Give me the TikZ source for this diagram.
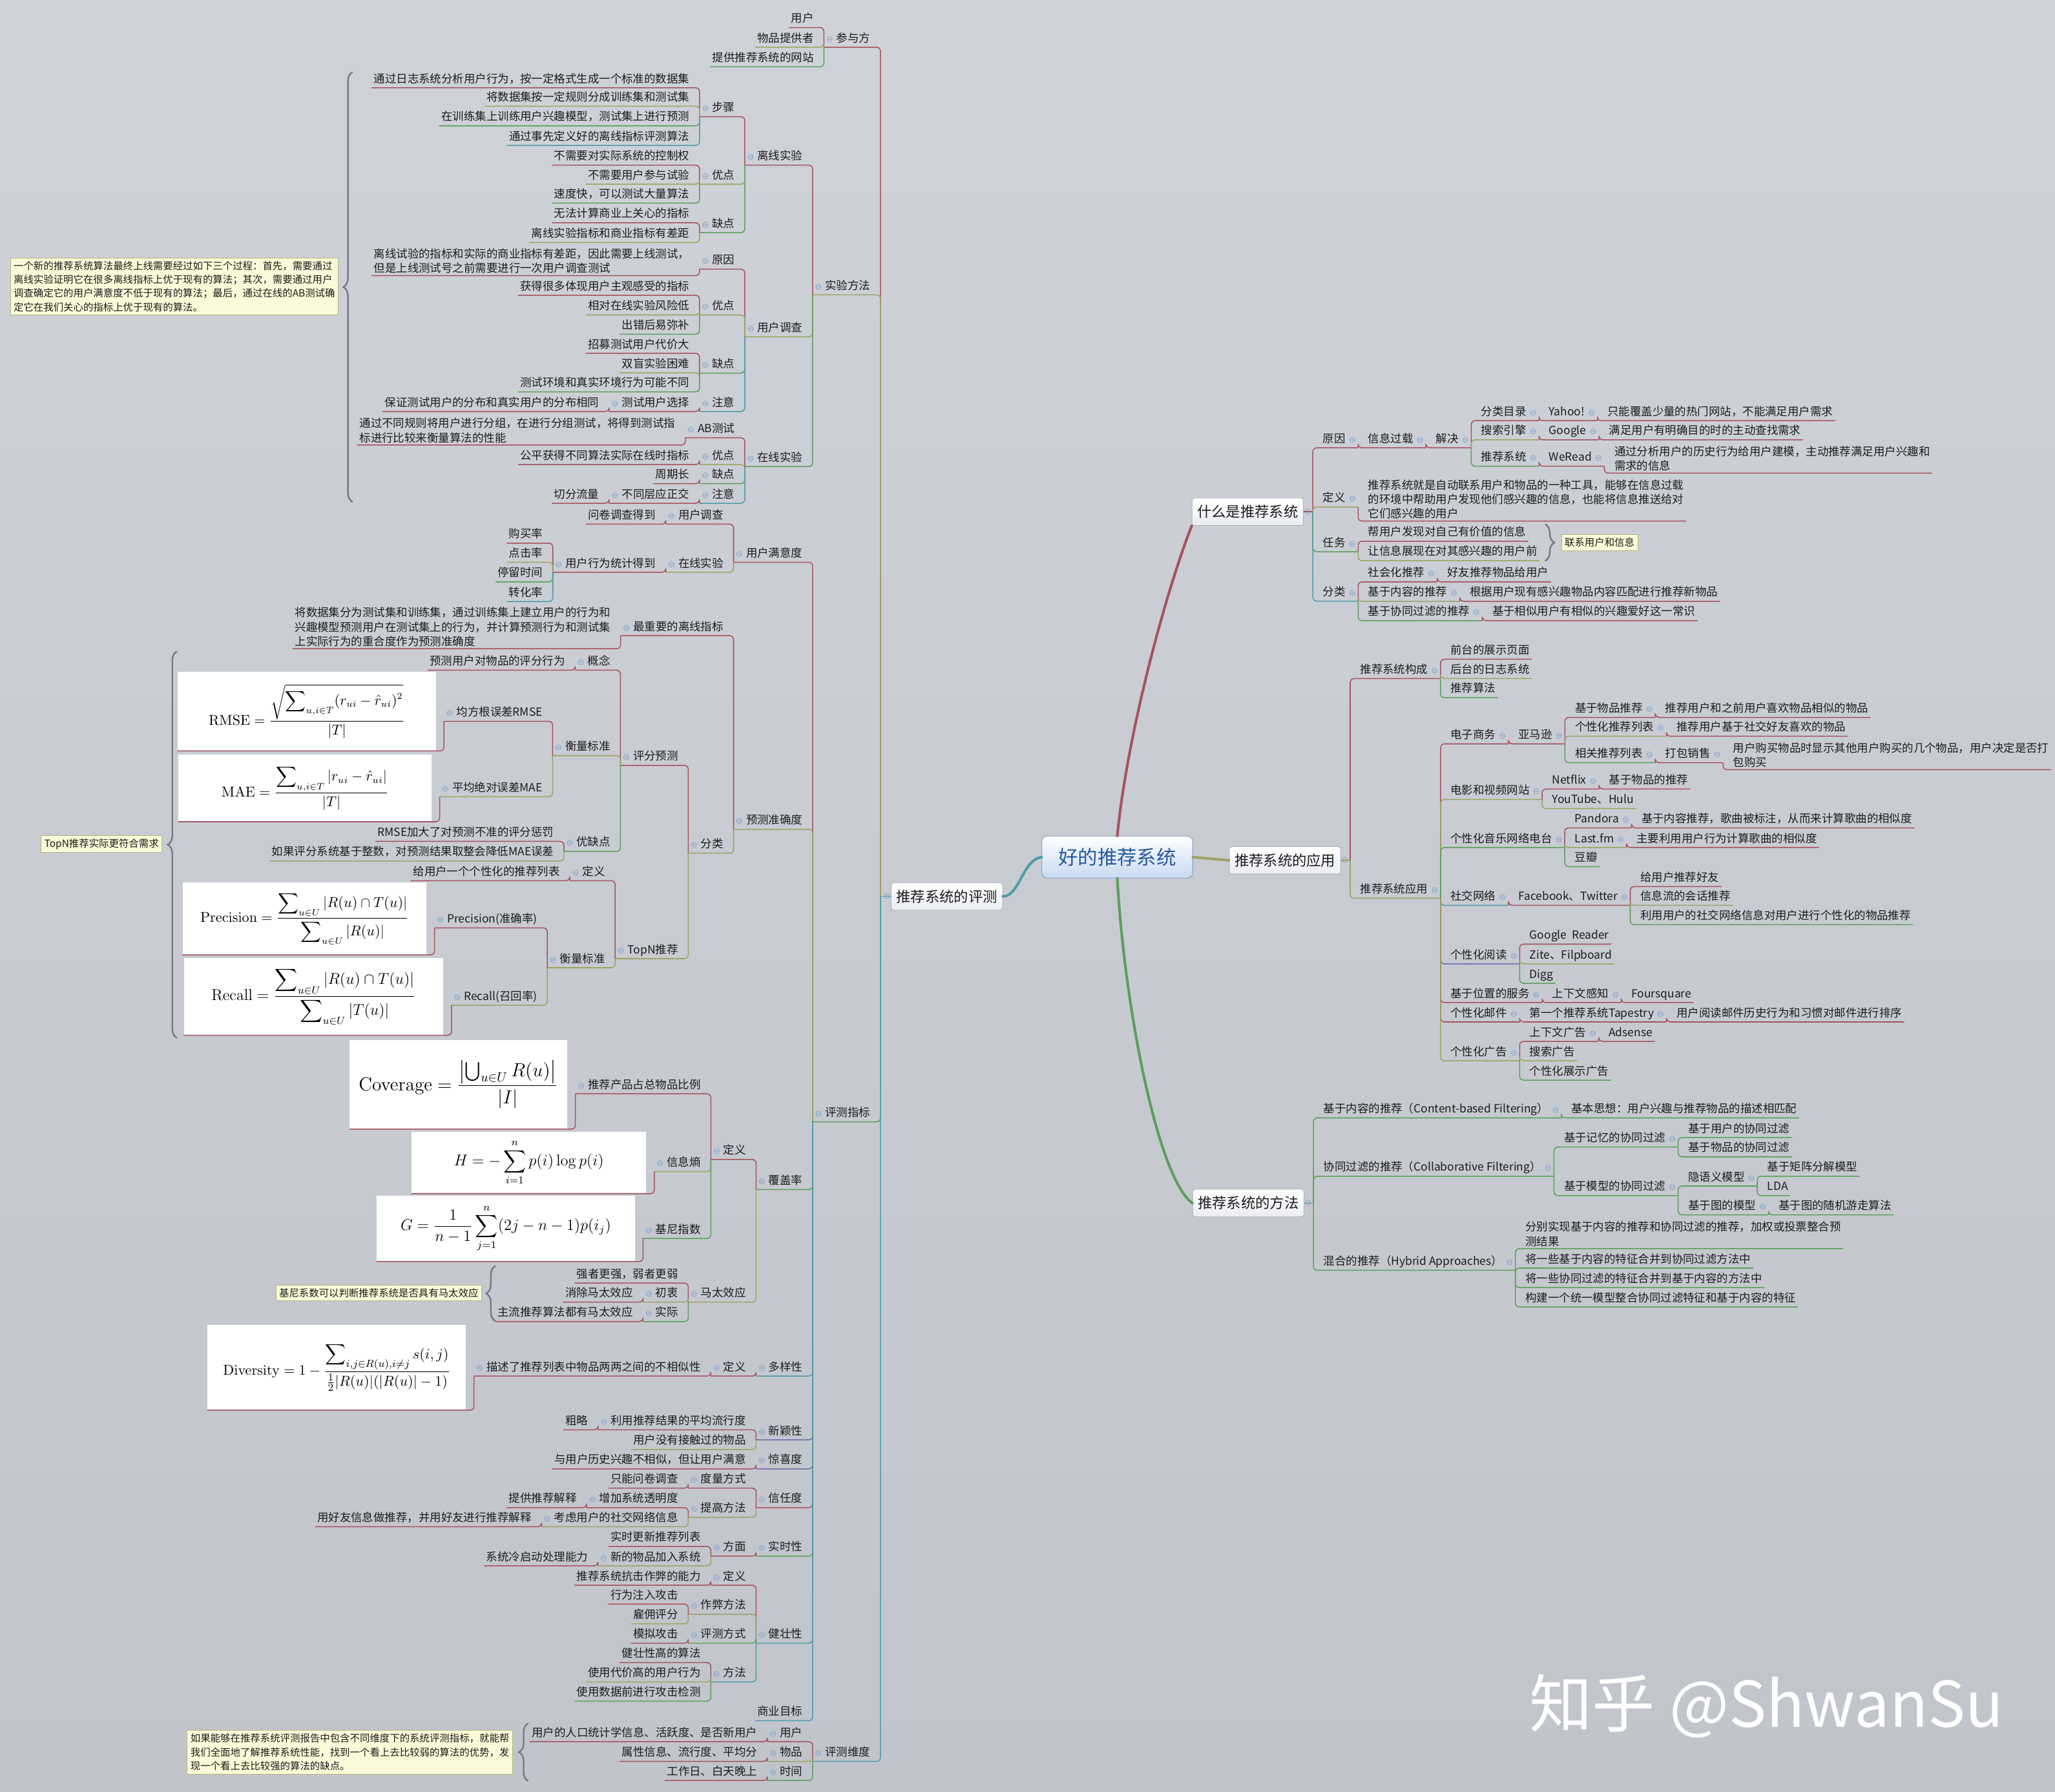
\documentclass[tikz,border=0pt]{standalone}
\usepackage{amsmath}
\usepackage[no-math]{fontspec}
\setmainfont{Noto Sans CJK SC}
\newfontfamily\mkfont{DejaVu Sans}
\usetikzlibrary{decorations.pathreplacing}
\definecolor{bgtop}{RGB}{207,210,216}
\definecolor{bgbot}{RGB}{193,196,203}
\definecolor{ink}{RGB}{28,28,30}
\definecolor{c1}{RGB}{165,82,98}
\definecolor{c2}{RGB}{158,163,98}
\definecolor{c3}{RGB}{92,158,92}
\definecolor{c4}{RGB}{78,156,168}
\definecolor{c5}{RGB}{110,106,168}
\definecolor{mkc}{RGB}{130,165,205}
\definecolor{notefill}{RGB}{250,250,216}
\definecolor{noteline}{RGB}{180,182,128}
\definecolor{bracec}{RGB}{120,122,128}
\definecolor{topicline}{RGB}{170,174,184}
\definecolor{topicbot}{RGB}{234,236,241}
\definecolor{rootline}{RGB}{120,150,192}
\definecolor{rootbot}{RGB}{200,218,240}
\definecolor{rootink}{RGB}{38,90,160}
\newcommand{\tx}{\fontsize{8.6}{11}\selectfont}
\newcommand{\mk}{{\mkfont\fontsize{6.5}{6.5}\selectfont\color{mkc}⊖}}
\newcommand{\mkl}[1]{\mk\hspace{2.5pt}#1}
\newcommand{\mkr}[1]{#1\hspace{2.5pt}\mk}
\newcommand{\lnk}[3][c1]{\draw[lk,#1] (#2) |- (#3.south east) -- (#3.south west);}
\newcommand{\rnk}[3][c1]{\draw[lk,#1] (#2) |- (#3.south west) -- (#3.south east);}
\tikzset{
  base/.style={inner sep=1.5pt, text=ink, font=\tx},
  lf/.style={base, anchor=south east, xshift=-6pt, text depth=2.2pt},
  rt/.style={base, anchor=south west, xshift=6pt, text depth=2.2pt},
  lfm/.style={base, anchor=south east, xshift=-6pt, align=left},
  rtm/.style={base, anchor=south west, xshift=6pt, align=left},
  fbox/.style={anchor=south east, xshift=-6pt, fill=white, inner sep=0pt, text=black},
  lk/.style={line width=.75pt, rounded corners=3pt},
  trunk/.style={line width=2pt, line cap=round},
  topic/.style={draw=topicline, top color=white, bottom color=topicbot, rounded corners=2pt,
    minimum width=85pt, minimum height=21pt, inner sep=1pt, text=ink, font=\fontsize{11}{13}\selectfont},
  root/.style={draw=rootline, top color=white, bottom color=rootbot, rounded corners=4pt,
    minimum width=115pt, minimum height=32pt, text=rootink, font=\fontsize{15}{17}\selectfont},
  note/.style={draw=noteline, fill=notefill, inner sep=2.5pt, text=ink, align=left,
    font=\fontsize{7.6}{10.5}\selectfont},
  brc/.style={decorate, decoration={brace, amplitude=7pt}, draw=bracec, line width=1.2pt},
}
\begin{document}
\begin{tikzpicture}[x=1pt,y=-1pt]
  \useasboundingbox (0,0) rectangle (1568,1367);
  \shade[top color=bgtop, bottom color=bgbot] (0,0) rectangle (1568,1367);
  \node[text=white, font=\fontsize{48}{50}\selectfont] (wm) at (1348,1302) {知乎 @ShwanSu};

  \node[root] (R) at (852.5,654) {好的推荐系统};
  \node[topic,label={[inner sep=0pt]east:\mk}] (W1) at (952,390.5) {什么是推荐系统};
  \node[topic,label={[inner sep=0pt]east:\mk}] (W2) at (980.5,656.5) {推荐系统的应用};
  \node[topic,label={[inner sep=0pt]east:\mk}] (W3) at (952.5,918) {推荐系统的方法};
  \node[topic,label={[inner sep=0pt]west:\mk}] (E) at (722.5,684) {推荐系统的评测};
  \draw[trunk,c1] (R.north) .. controls (860,560) and (890,450) .. (W1.south west);
  \draw[trunk,c2] (R.east) -- (W2.west);
  \draw[trunk,c3] (R.south) .. controls (858,770) and (884,900) .. (W3.west);
  \draw[trunk,c4] (R.west) .. controls (780,656) and (778,684) .. (E.east);
  \coordinate (es) at ([xshift=-8pt]E.west);
  \coordinate (w1s) at ([xshift=7pt]W1.east);
  \coordinate (w2s) at ([xshift=7pt]W2.east);
  \coordinate (w3s) at ([xshift=7pt]W3.east);
  \draw[lk,c4] (E.west) -- (es);
  \draw[lk,c1] (W1.east) -- (w1s);
  \draw[lk,c2] (W2.east) -- (w2s);
  \draw[lk,c3] (W3.east) -- (w3s);

  \node[lf] (p0) at (es |- 0,36) {\mkl{参与方}};
  \node[lf] (p01) at (p0.south west |- 0,21) {用户};
  \node[lf] (p02) at (p0.south west |- 0,36) {物品提供者};
  \node[lf] (p03) at (p0.south west |- 0,51) {提供推荐系统的网站};
  \lnk{es}{p0}
  \lnk{p0.south west}{p01}
  \lnk[c2]{p0.south west}{p02}
  \lnk[c3]{p0.south west}{p03}

  \node[lf] (s0) at (es |- 0,225) {\mkl{实验方法}};
  \node[lf] (s1) at (s0.south west |- 0,126) {\mkl{离线实验}};
  \node[lf] (s11) at (s1.south west |- 0,89) {\mkl{步骤}};
  \node[lf] (s111) at (s11.south west |- 0,67) {通过日志系统分析用户行为，按一定格式生成一个标准的数据集};
  \node[lf] (s112) at (s11.south west |- 0,81) {将数据集按一定规则分成训练集和测试集};
  \node[lf] (s113) at (s11.south west |- 0,96) {在训练集上训练用户兴趣模型，测试集上进行预测};
  \node[lf] (s114) at (s11.south west |- 0,111) {通过事先定义好的离线指标评测算法};
  \node[lf] (s12) at (s1.south west |- 0,140.5) {\mkl{优点}};
  \node[lf] (s121) at (s12.south west |- 0,126) {不需要对实际系统的控制权};
  \node[lf] (s122) at (s12.south west |- 0,140.5) {不需要用户参与试验};
  \node[lf] (s123) at (s12.south west |- 0,155) {速度快，可以测试大量算法};
  \node[lf] (s13) at (s1.south west |- 0,177.5) {\mkl{缺点}};
  \node[lf] (s131) at (s13.south west |- 0,170) {无法计算商业上关心的指标};
  \node[lf] (s132) at (s13.south west |- 0,185) {离线实验指标和商业指标有差距};
  \lnk[c2]{es}{s0}
  \lnk{s0.south west}{s1}
  \lnk{s1.south west}{s11}
  \lnk{s11.south west}{s111}
  \lnk[c2]{s11.south west}{s112}
  \lnk[c3]{s11.south west}{s113}
  \lnk[c4]{s11.south west}{s114}
  \lnk[c2]{s1.south west}{s12}
  \lnk{s12.south west}{s121}
  \lnk[c2]{s12.south west}{s122}
  \lnk[c3]{s12.south west}{s123}
  \lnk[c3]{s1.south west}{s13}
  \lnk{s13.south west}{s131}
  \lnk[c2]{s13.south west}{s132}

  \node[lf] (s2) at (s0.south west |- 0,257) {\mkl{用户调查}};
  \node[lf] (s21) at (s2.south west |- 0,205.4) {\mkl{原因}};
  \node[lfm] (s211) at (s21.south west |- 0,210.3) {离线试验的指标和实际的商业指标有差距，因此需要上线测试，\\但是上线测试号之前需要进行一次用户调查测试};
  \node[lf] (s22) at (s2.south west |- 0,240.3) {\mkl{优点}};
  \node[lf] (s221) at (s22.south west |- 0,225.3) {获得很多体现用户主观感受的指标};
  \node[lf] (s222) at (s22.south west |- 0,240.3) {相对在线实验风险低};
  \node[lf] (s223) at (s22.south west |- 0,255) {出错后易弥补};
  \node[lf] (s23) at (s2.south west |- 0,284.7) {\mkl{缺点}};
  \node[lf] (s231) at (s23.south west |- 0,269.6) {招募测试用户代价大};
  \node[lf] (s232) at (s23.south west |- 0,284.5) {双盲实验困难};
  \node[lf] (s233) at (s23.south west |- 0,299) {测试环境和真实环境行为可能不同};
  \node[lf] (s24) at (s2.south west |- 0,314) {\mkl{注意}};
  \node[lf] (s241) at (s24.south west |- 0,314) {\mkl{测试用户选择}};
  \node[lf] (s2411) at (s241.south west |- 0,314) {保证测试用户的分布和真实用户的分布相同};
  \lnk[c2]{s0.south west}{s2}
  \lnk{s2.south west}{s21}
  \lnk{s21.south west}{s211}
  \lnk[c2]{s2.south west}{s22}
  \lnk{s22.south west}{s221}
  \lnk[c2]{s22.south west}{s222}
  \lnk[c3]{s22.south west}{s223}
  \lnk[c3]{s2.south west}{s23}
  \lnk{s23.south west}{s231}
  \lnk[c2]{s23.south west}{s232}
  \lnk[c3]{s23.south west}{s233}
  \lnk[c4]{s2.south west}{s24}
  \lnk{s24.south west}{s241}
  \lnk{s241.south west}{s2411}

  \node[lf] (s3) at (s0.south west |- 0,356) {\mkl{在线实验}};
  \node[lf] (s31) at (s3.south west |- 0,334) {\mkl{AB测试}};
  \node[lfm] (s311) at (s31.south west |- 0,339.6) {通过不同规则将用户进行分组，在进行分组测试，将得到测试指\\标进行比较来衡量算法的性能};
  \node[lf] (s32) at (s3.south west |- 0,354.5) {\mkl{优点}};
  \node[lf] (s321) at (s32.south west |- 0,354.5) {公平获得不同算法实际在线时指标};
  \node[lf] (s33) at (s3.south west |- 0,369) {\mkl{缺点}};
  \node[lf] (s331) at (s33.south west |- 0,369) {周期长};
  \node[lf] (s34) at (s3.south west |- 0,384) {\mkl{注意}};
  \node[lf] (s341) at (s34.south west |- 0,384) {\mkl{不同层应正交}};
  \node[lf] (s3411) at (s341.south west |- 0,384) {切分流量};
  \lnk[c3]{s0.south west}{s3}
  \lnk{s3.south west}{s31}
  \lnk{s31.south west}{s311}
  \lnk[c2]{s3.south west}{s32}
  \lnk{s32.south west}{s321}
  \lnk[c3]{s3.south west}{s33}
  \lnk{s33.south west}{s331}
  \lnk[c4]{s3.south west}{s34}
  \lnk{s34.south west}{s341}
  \lnk{s341.south west}{s3411}

  \node[lf] (m0) at (es |- 0,856) {\mkl{评测指标}};
  \node[lf] (m1) at (m0.south west |- 0,429) {\mkl{用户满意度}};
  \node[lf] (m11) at (m1.south west |- 0,400) {\mkl{用户调查}};
  \node[lf] (m111) at (m11.south west |- 0,400) {问卷调查得到};
  \node[lf] (m12) at (m1.south west |- 0,436.7) {\mkl{在线实验}};
  \node[lf] (m121) at (m12.south west |- 0,436.7) {\mkl{用户行为统计得到}};
  \node[lf] (m1211) at (m121.south west |- 0,414.5) {购买率};
  \node[lf] (m1212) at (m121.south west |- 0,429) {点击率};
  \node[lf] (m1213) at (m121.south west |- 0,444) {停留时间};
  \node[lf] (m1214) at (m121.south west |- 0,459) {转化率};
  \lnk[c3]{es}{m0}
  \lnk{m0.south west}{m1}
  \lnk{m1.south west}{m11}
  \lnk{m11.south west}{m111}
  \lnk[c2]{m1.south west}{m12}
  \lnk{m12.south west}{m121}
  \lnk{m121.south west}{m1211}
  \lnk[c2]{m121.south west}{m1212}
  \lnk[c3]{m121.south west}{m1213}
  \lnk[c4]{m121.south west}{m1214}

  \node[lf] (m2) at (m0.south west |- 0,632.8) {\mkl{预测准确度}};
  \node[lf] (m21) at (m2.south west |- 0,485) {\mkl{最重要的离线指标}};
  \node[lfm] (m211) at (m21.south west |- 0,495) {将数据集分为测试集和训练集，通过训练集上建立用户的行为和\\兴趣模型预测用户在测试集上的行为，并计算预测行为和测试集\\上实际行为的重合度作为预测准确度};
  \node[lf] (m22) at (m2.south west |- 0,651) {\mkl{分类}};
  \node[lf] (m221) at (m22.south west |- 0,584) {\mkl{评分预测}};
  \node[lf] (m2211) at (m221.south west |- 0,511.4) {\mkl{概念}};
  \node[lf] (m22111) at (m2211.south west |- 0,511.4) {预测用户对物品的评分行为};
  \node[lf] (m2212) at (m221.south west |- 0,576.6) {\mkl{衡量标准}};
  \node[lf] (m22121) at (m2212.south west |- 0,550.4) {\mkl{均方根误差RMSE}};
  \node[fbox,minimum width=197pt,minimum height=60pt,font=\fontsize{10.5}{12}\selectfont] (frmse) at (m22121.south west |- 0,573)
    {$\mathrm{RMSE}=\dfrac{\sqrt{\displaystyle\sum\nolimits_{u,i\in T}(r_{ui}-\hat{r}_{ui})^2}}{|T|}$};
  \node[lf] (m22122) at (m2212.south west |- 0,608) {\mkl{平均绝对误差MAE}};
  \node[fbox,minimum width=193pt,minimum height=51pt,font=\fontsize{10.5}{12}\selectfont] (fmae) at (m22122.south west |- 0,627)
    {$\mathrm{MAE}=\dfrac{\displaystyle\sum\nolimits_{u,i\in T}|r_{ui}-\hat{r}_{ui}|}{|T|}$};
  \node[lf] (m2213) at (m221.south west |- 0,649.6) {\mkl{优缺点}};
  \node[lf] (m22131) at (m2213.south west |- 0,642) {RMSE加大了对预测不准的评分惩罚};
  \node[lf] (m22132) at (m2213.south west |- 0,657) {如果评分系统基于整数，对预测结果取整会降低MAE误差};
  \node[lf] (m222) at (m22.south west |- 0,731.5) {\mkl{TopN推荐}};
  \node[lf] (m2221) at (m222.south west |- 0,672) {\mkl{定义}};
  \node[lf] (m22211) at (m2221.south west |- 0,672) {给用户一个个性化的推荐列表};
  \node[lf] (m2222) at (m222.south west |- 0,738.4) {\mkl{衡量标准}};
  \node[lf] (m22221) at (m2222.south west |- 0,708) {\mkl{Precision(准确率)}};
  \node[fbox,minimum width=186pt,minimum height=55pt,font=\fontsize{10.5}{12}\selectfont] (fpre) at (m22221.south west |- 0,728.6)
    {$\mathrm{Precision}=\dfrac{\displaystyle\sum\nolimits_{u\in U}|R(u)\cap T(u)|}{\displaystyle\sum\nolimits_{u\in U}|R(u)|}$};
  \node[lf] (m22222) at (m2222.south west |- 0,767) {\mkl{Recall(召回率)}};
  \node[fbox,minimum width=198pt,minimum height=59pt,font=\fontsize{11.5}{13}\selectfont] (frec) at (m22222.south west |- 0,790)
    {$\mathrm{Recall}=\dfrac{\displaystyle\sum\nolimits_{u\in U}|R(u)\cap T(u)|}{\displaystyle\sum\nolimits_{u\in U}|T(u)|}$};
  \lnk[c2]{m0.south west}{m2}
  \lnk{m2.south west}{m21}
  \lnk{m21.south west}{m211}
  \lnk[c2]{m2.south west}{m22}
  \lnk{m22.south west}{m221}
  \lnk{m221.south west}{m2211}
  \lnk{m2211.south west}{m22111}
  \lnk[c2]{m221.south west}{m2212}
  \lnk{m2212.south west}{m22121}
  \lnk{m22121.south west}{frmse}
  \lnk[c2]{m2212.south west}{m22122}
  \lnk{m22122.south west}{fmae}
  \lnk[c3]{m221.south west}{m2213}
  \lnk{m2213.south west}{m22131}
  \lnk[c2]{m2213.south west}{m22132}
  \lnk[c2]{m22.south west}{m222}
  \lnk{m222.south west}{m2221}
  \lnk{m2221.south west}{m22211}
  \lnk[c2]{m222.south west}{m2222}
  \lnk{m2222.south west}{m22221}
  \lnk{m22221.south west}{fpre}
  \lnk[c2]{m2222.south west}{m22222}
  \lnk{m22222.south west}{frec}

  \node[lf] (m3) at (m0.south west |- 0,907.7) {\mkl{覆盖率}};
  \node[lf] (m31) at (m3.south west |- 0,884.7) {\mkl{定义}};
  \node[lf] (m311) at (m31.south west |- 0,834.6) {\mkl{推荐产品占总物品比例}};
  \node[fbox,minimum width=166pt,minimum height=68pt,font=\fontsize{14}{16}\selectfont] (fcov) at (m311.south west |- 0,861.6)
    {$\mathrm{Coverage}=\dfrac{\left|\bigcup\nolimits_{u\in U}R(u)\right|}{|I|}$};
  \node[lf] (m312) at (m31.south west |- 0,894) {\mkl{信息熵}};
  \node[fbox,minimum width=179pt,minimum height=47pt,font=\fontsize{12}{14}\selectfont] (fh) at (m312.south west |- 0,910.8)
    {$H=-\displaystyle\sum_{i=1}^{n}p(i)\log p(i)$};
  \node[lf] (m313) at (m31.south west |- 0,945) {\mkl{基尼指数}};
  \node[fbox,minimum width=197pt,minimum height=50pt,font=\fontsize{11.5}{13}\selectfont] (fg) at (m313.south west |- 0,962.6)
    {$G=\dfrac{1}{n-1}\displaystyle\sum_{j=1}^{n}(2j-n-1)p(i_j)$};
  \node[lf] (m32) at (m3.south west |- 0,993.6) {\mkl{马太效应}};
  \node[lf] (m321) at (m32.south west |- 0,979) {强者更强，弱者更弱};
  \node[lf] (m322) at (m32.south west |- 0,993.6) {\mkl{初衷}};
  \node[lf] (m3221) at (m322.south west |- 0,993.6) {消除马太效应};
  \node[lf] (m323) at (m32.south west |- 0,1008.4) {\mkl{实际}};
  \node[lf] (m3231) at (m323.south west |- 0,1008.4) {主流推荐算法都有马太效应};
  \lnk[c3]{m0.south west}{m3}
  \lnk{m3.south west}{m31}
  \lnk{m31.south west}{m311}
  \lnk{m311.south west}{fcov}
  \lnk[c2]{m31.south west}{m312}
  \lnk{m312.south west}{fh}
  \lnk[c3]{m31.south west}{m313}
  \lnk{m313.south west}{fg}
  \lnk[c2]{m3.south west}{m32}
  \lnk{m32.south west}{m321}
  \lnk[c2]{m32.south west}{m322}
  \lnk{m322.south west}{m3221}
  \lnk[c3]{m32.south west}{m323}
  \lnk{m323.south west}{m3231}

  \node[lf] (m4) at (m0.south west |- 0,1050) {\mkl{多样性}};
  \node[lf] (m41) at (m4.south west |- 0,1050) {\mkl{定义}};
  \node[lf] (m411) at (m41.south west |- 0,1050) {\mkl{描述了推荐列表中物品两两之间的不相似性}};
  \node[fbox,minimum width=197pt,minimum height=65pt,font=\fontsize{11}{13}\selectfont] (fdiv) at (m411.south west |- 0,1076)
    {$\mathrm{Diversity}=1-\dfrac{\displaystyle\sum\nolimits_{i,j\in R(u),i\neq j}s(i,j)}{\frac{1}{2}|R(u)|(|R(u)|-1)}$};
  \node[lf] (m5) at (m0.south west |- 0,1098.7) {\mkl{新颖性}};
  \node[lf] (m51) at (m5.south west |- 0,1091) {\mkl{利用推荐结果的平均流行度}};
  \node[lf] (m511) at (m51.south west |- 0,1091) {粗略};
  \node[lf] (m52) at (m5.south west |- 0,1106) {用户没有接触过的物品};
  \node[lf] (m6) at (m0.south west |- 0,1120.8) {\mkl{惊喜度}};
  \node[lf] (m61) at (m6.south west |- 0,1120.8) {与用户历史兴趣不相似，但让用户满意};
  \node[lf] (m7) at (m0.south west |- 0,1150.4) {\mkl{信任度}};
  \node[lf] (m71) at (m7.south west |- 0,1135.5) {\mkl{度量方式}};
  \node[lf] (m711) at (m71.south west |- 0,1135.5) {只能问卷调查};
  \node[lf] (m72) at (m7.south west |- 0,1157.8) {\mkl{提高方法}};
  \node[lf] (m721) at (m72.south west |- 0,1150.4) {\mkl{增加系统透明度}};
  \node[lf] (m7211) at (m721.south west |- 0,1150.4) {提供推荐解释};
  \node[lf] (m722) at (m72.south west |- 0,1165) {\mkl{考虑用户的社交网络信息}};
  \node[lf] (m7221) at (m722.south west |- 0,1165) {用好友信息做推荐，并用好友进行推荐解释};
  \lnk[c4]{m0.south west}{m4}
  \lnk{m4.south west}{m41}
  \lnk{m41.south west}{m411}
  \lnk{m411.south west}{fdiv}
  \lnk[c5]{m0.south west}{m5}
  \lnk{m5.south west}{m51}
  \lnk{m51.south west}{m511}
  \lnk[c2]{m5.south west}{m52}
  \lnk[c5]{m0.south west}{m6}
  \lnk{m6.south west}{m61}
  \lnk[c1]{m0.south west}{m7}
  \lnk{m7.south west}{m71}
  \lnk{m71.south west}{m711}
  \lnk[c2]{m7.south west}{m72}
  \lnk{m72.south west}{m721}
  \lnk{m721.south west}{m7211}
  \lnk[c2]{m72.south west}{m722}
  \lnk{m722.south west}{m7221}

  \node[lf] (m8) at (m0.south west |- 0,1187.4) {\mkl{实时性}};
  \node[lf] (m81) at (m8.south west |- 0,1187.4) {\mkl{方面}};
  \node[lf] (m811) at (m81.south west |- 0,1180) {实时更新推荐列表};
  \node[lf] (m812) at (m81.south west |- 0,1194.8) {\mkl{新的物品加入系统}};
  \node[lf] (m8121) at (m812.south west |- 0,1194.8) {系统冷启动处理能力};
  \node[lf] (m9) at (m0.south west |- 0,1253.8) {\mkl{健壮性}};
  \node[lf] (m91) at (m9.south west |- 0,1209.6) {\mkl{定义}};
  \node[lf] (m911) at (m91.south west |- 0,1209.6) {推荐系统抗击作弊的能力};
  \node[lf] (m92) at (m9.south west |- 0,1231.7) {\mkl{作弊方法}};
  \node[lf] (m921) at (m92.south west |- 0,1224) {行为注入攻击};
  \node[lf] (m922) at (m92.south west |- 0,1239) {雇佣评分};
  \node[lf] (m93) at (m9.south west |- 0,1253.8) {\mkl{评测方式}};
  \node[lf] (m931) at (m93.south west |- 0,1253.8) {模拟攻击};
  \node[lf] (m94) at (m9.south west |- 0,1283.4) {\mkl{方法}};
  \node[lf] (m941) at (m94.south west |- 0,1268.6) {健壮性高的算法};
  \node[lf] (m942) at (m94.south west |- 0,1283.4) {使用代价高的用户行为};
  \node[lf] (m943) at (m94.south west |- 0,1298) {使用数据前进行攻击检测};
  \node[lf] (ma) at (m0.south west |- 0,1313) {商业目标};
  \lnk[c3]{m0.south west}{m8}
  \lnk{m8.south west}{m81}
  \lnk{m81.south west}{m811}
  \lnk[c2]{m81.south west}{m812}
  \lnk{m812.south west}{m8121}
  \lnk[c4]{m0.south west}{m9}
  \lnk{m9.south west}{m91}
  \lnk{m91.south west}{m911}
  \lnk[c2]{m9.south west}{m92}
  \lnk{m92.south west}{m921}
  \lnk[c2]{m92.south west}{m922}
  \lnk[c3]{m9.south west}{m93}
  \lnk{m93.south west}{m931}
  \lnk[c4]{m9.south west}{m94}
  \lnk{m94.south west}{m941}
  \lnk[c2]{m94.south west}{m942}
  \lnk[c3]{m94.south west}{m943}
  \lnk[c4]{m0.south west}{ma}

  \node[lf] (d0) at (es |- 0,1344) {\mkl{评测维度}};
  \node[lf] (d1) at (d0.south west |- 0,1329) {\mkl{用户}};
  \node[lf] (d11) at (d1.south west |- 0,1329) {用户的人口统计学信息、活跃度、是否新用户};
  \node[lf] (d2) at (d0.south west |- 0,1344) {\mkl{物品}};
  \node[lf] (d21) at (d2.south west |- 0,1344) {属性信息、流行度、平均分};
  \node[lf] (d3) at (d0.south west |- 0,1358.6) {\mkl{时间}};
  \node[lf] (d31) at (d3.south west |- 0,1358.6) {工作日、白天晚上};
  \lnk[c4]{es}{d0}
  \lnk{d0.south west}{d1}
  \lnk{d1.south west}{d11}
  \lnk[c2]{d0.south west}{d2}
  \lnk{d2.south west}{d21}
  \lnk[c3]{d0.south west}{d3}
  \lnk{d3.south west}{d31}

  \node[note] (n1) at (133,218.5) {一个新的推荐系统算法最终上线需要经过如下三个过程：首先，需要通过\\离线实验证明它在很多离线指标上优于现有的算法；其次，需要通过用户\\调查确定它的用户满意度不低于现有的算法；最后，通过在线的AB测试确\\定它在我们关心的指标上优于现有的算法。};
  \node[note] (n2) at (77.5,644) {TopN推荐实际更符合需求};
  \node[note] (n3) at (289,986.5) {基尼系数可以判断推荐系统是否具有马太效应};
  \node[note] (n4) at (267,1337) {如果能够在推荐系统评测报告中包含不同维度下的系统评测指标，就能帮\\我们全面地了解推荐系统性能，找到一个看上去比较弱的算法的优势，发\\现一个看上去比较强的算法的缺点。};
  \node[note] (n5) at (1220.5,414) {联系用户和信息};
  \draw[brc] (269,383) -- (269,55);
  \draw[brc] (135,792) -- (135,497);
  \draw[brc] (378,1008) -- (378,966);
  \draw[brc] (403,1359) -- (403,1315);
  \draw[brc] (1179,400) -- (1179,428);

  \node[rt] (a1) at (w1s |- 0,341.7) {\mkr{原因}};
  \node[rt] (a11) at (a1.south east |- 0,341.7) {\mkr{信息过载}};
  \node[rt] (a111) at (a11.south east |- 0,341.7) {\mkr{解决}};
  \node[rt] (a1111) at (a111.south east |- 0,321) {\mkr{分类目录}};
  \node[rt] (a1111a) at (a1111.south east |- 0,321) {\mkr{Yahoo!}};
  \node[rt] (a1111b) at (a1111a.south east |- 0,321) {只能覆盖少量的热门网站，不能满足用户需求};
  \node[rt] (a1112) at (a111.south east |- 0,335.6) {\mkr{搜索引擎}};
  \node[rt] (a1112a) at (a1112.south east |- 0,335.6) {\mkr{Google}};
  \node[rt] (a1112b) at (a1112a.south east |- 0,335.6) {满足用户有明确目的时的主动查找需求};
  \node[rt] (a1113) at (a111.south east |- 0,355.7) {\mkr{推荐系统}};
  \node[rt] (a1113a) at (a1113.south east |- 0,355.7) {\mkr{WeRead}};
  \node[rtm] (a1113b) at (a1113a.south east |- 0,361) {通过分析用户的历史行为给用户建模，主动推荐满足用户兴趣和\\需求的信息};
  \node[rt] (a2) at (w1s |- 0,386.9) {\mkr{定义}};
  \node[rtm] (a21) at (a2.south east |- 0,397.6) {推荐系统就是自动联系用户和物品的一种工具，能够在信息过载\\的环境中帮助用户发现他们感兴趣的信息，也能将信息推送给对\\它们感兴趣的用户};
  \node[rt] (a3) at (w1s |- 0,421) {\mkr{任务}};
  \node[rt] (a31) at (a3.south east |- 0,413) {帮用户发现对自己有价值的信息};
  \node[rt] (a32) at (a3.south east |- 0,427.8) {让信息展现在对其感兴趣的用户前};
  \node[rt] (a4) at (w1s |- 0,458.7) {\mkr{分类}};
  \node[rt] (a41) at (a4.south east |- 0,444) {\mkr{社会化推荐}};
  \node[rt] (a411) at (a41.south east |- 0,444) {好友推荐物品给用户};
  \node[rt] (a42) at (a4.south east |- 0,458.8) {\mkr{基于内容的推荐}};
  \node[rt] (a421) at (a42.south east |- 0,458.8) {根据用户现有感兴趣物品内容匹配进行推荐新物品};
  \node[rt] (a43) at (a4.south east |- 0,473.6) {\mkr{基于协同过滤的推荐}};
  \node[rt] (a431) at (a43.south east |- 0,473.6) {基于相似用户有相似的兴趣爱好这一常识};
  \rnk{w1s}{a1}
  \rnk{a1.south east}{a11}
  \rnk{a11.south east}{a111}
  \rnk{a111.south east}{a1111}
  \rnk{a1111.south east}{a1111a}
  \rnk{a1111a.south east}{a1111b}
  \rnk[c2]{a111.south east}{a1112}
  \rnk{a1112.south east}{a1112a}
  \rnk{a1112a.south east}{a1112b}
  \rnk[c3]{a111.south east}{a1113}
  \rnk{a1113.south east}{a1113a}
  \rnk{a1113a.south east}{a1113b}
  \rnk[c2]{w1s}{a2}
  \rnk{a2.south east}{a21}
  \rnk[c3]{w1s}{a3}
  \rnk{a3.south east}{a31}
  \rnk[c2]{a3.south east}{a32}
  \rnk[c4]{w1s}{a4}
  \rnk{a4.south east}{a41}
  \rnk{a41.south east}{a411}
  \rnk[c2]{a4.south east}{a42}
  \rnk{a42.south east}{a421}
  \rnk[c3]{a4.south east}{a43}
  \rnk{a43.south east}{a431}

  \node[rt] (b1) at (w2s |- 0,517.8) {\mkr{推荐系统构成}};
  \node[rt] (b11) at (b1.south east |- 0,503) {前台的展示页面};
  \node[rt] (b12) at (b1.south east |- 0,517.8) {后台的日志系统};
  \node[rt] (b13) at (b1.south east |- 0,532.3) {推荐算法};
  \node[rt] (b2) at (w2s |- 0,685.4) {\mkr{推荐系统应用}};
  \node[rt] (b21) at (b2.south east |- 0,567.6) {\mkr{电子商务}};
  \node[rt] (b211) at (b21.south east |- 0,567.6) {\mkr{亚马逊}};
  \node[rt] (b2111) at (b211.south east |- 0,547.4) {\mkr{基于物品推荐}};
  \node[rt] (b21111) at (b2111.south east |- 0,547.4) {推荐用户和之前用户喜欢物品相似的物品};
  \node[rt] (b2112) at (b211.south east |- 0,561.8) {\mkr{个性化推荐列表}};
  \node[rt] (b21121) at (b2112.south east |- 0,561.8) {推荐用户基于社交好友喜欢的物品};
  \node[rt] (b2113) at (b211.south east |- 0,582) {\mkr{相关推荐列表}};
  \node[rt] (b21131) at (b2113.south east |- 0,582) {\mkr{打包销售}};
  \node[rtm] (b211311) at (b21131.south east |- 0,587.3) {用户购买物品时显示其他用户购买的几个物品，用户决定是否打\\包购买};
  \node[rt] (b22) at (b2.south east |- 0,610) {\mkr{电影和视频网站}};
  \node[rt] (b221) at (b22.south east |- 0,602) {\mkr{Netflix}};
  \node[rt] (b2211) at (b221.south east |- 0,602) {基于物品的推荐};
  \node[rt] (b222) at (b22.south east |- 0,617) {YouTube、Hulu};
  \node[rt] (b23) at (b2.south east |- 0,646.7) {\mkr{个性化音乐网络电台}};
  \node[rt] (b231) at (b23.south east |- 0,631.7) {\mkr{Pandora}};
  \node[rt] (b2311) at (b231.south east |- 0,631.7) {基于内容推荐，歌曲被标注，从而来计算歌曲的相似度};
  \node[rt] (b232) at (b23.south east |- 0,646.7) {\mkr{Last.fm}};
  \node[rt] (b2321) at (b232.south east |- 0,646.7) {主要利用用户行为计算歌曲的相似度};
  \node[rt] (b233) at (b23.south east |- 0,661.3) {豆瓣};
  \node[rt] (b24) at (b2.south east |- 0,690.8) {\mkr{社交网络}};
  \node[rt] (b241) at (b24.south east |- 0,690.8) {\mkr{Facebook、Twitter}};
  \node[rt] (b2411) at (b241.south east |- 0,676.5) {给用户推荐好友};
  \node[rt] (b2412) at (b241.south east |- 0,690.8) {信息流的会话推荐};
  \node[rt] (b2413) at (b241.south east |- 0,705.6) {利用用户的社交网络信息对用户进行个性化的物品推荐};
  \node[rt] (b25) at (b2.south east |- 0,735.5) {\mkr{个性化阅读}};
  \node[rt] (b251) at (b25.south east |- 0,720.4) {Google\ \ Reader};
  \node[rt] (b252) at (b25.south east |- 0,735.5) {Zite、Filpboard};
  \node[rt] (b253) at (b25.south east |- 0,750.3) {Digg};
  \node[rt] (b26) at (b2.south east |- 0,765) {\mkr{基于位置的服务}};
  \node[rt] (b261) at (b26.south east |- 0,765) {\mkr{上下文感知}};
  \node[rt] (b2611) at (b261.south east |- 0,765) {Foursquare};
  \node[rt] (b27) at (b2.south east |- 0,779.8) {\mkr{个性化邮件}};
  \node[rt] (b271) at (b27.south east |- 0,779.8) {\mkr{第一个推荐系统Tapestry}};
  \node[rt] (b2711) at (b271.south east |- 0,779.8) {用户阅读邮件历史行为和习惯对邮件进行排序};
  \node[rt] (b28) at (b2.south east |- 0,809.4) {\mkr{个性化广告}};
  \node[rt] (b281) at (b28.south east |- 0,794.6) {\mkr{上下文广告}};
  \node[rt] (b2811) at (b281.south east |- 0,794.6) {Adsense};
  \node[rt] (b282) at (b28.south east |- 0,809.4) {搜索广告};
  \node[rt] (b283) at (b28.south east |- 0,824.2) {个性化展示广告};
  \rnk{w2s}{b1}
  \rnk{b1.south east}{b11}
  \rnk[c2]{b1.south east}{b12}
  \rnk[c3]{b1.south east}{b13}
  \rnk[c2]{w2s}{b2}
  \rnk{b2.south east}{b21}
  \rnk{b21.south east}{b211}
  \rnk{b211.south east}{b2111}
  \rnk{b2111.south east}{b21111}
  \rnk[c2]{b211.south east}{b2112}
  \rnk{b2112.south east}{b21121}
  \rnk[c3]{b211.south east}{b2113}
  \rnk{b2113.south east}{b21131}
  \rnk{b21131.south east}{b211311}
  \rnk[c2]{b2.south east}{b22}
  \rnk{b22.south east}{b221}
  \rnk{b221.south east}{b2211}
  \rnk[c2]{b22.south east}{b222}
  \rnk[c3]{b2.south east}{b23}
  \rnk{b23.south east}{b231}
  \rnk{b231.south east}{b2311}
  \rnk[c2]{b23.south east}{b232}
  \rnk{b232.south east}{b2321}
  \rnk[c3]{b23.south east}{b233}
  \rnk[c4]{b2.south east}{b24}
  \rnk{b24.south east}{b241}
  \rnk{b241.south east}{b2411}
  \rnk[c2]{b241.south east}{b2412}
  \rnk[c3]{b241.south east}{b2413}
  \rnk[c5]{b2.south east}{b25}
  \rnk{b25.south east}{b251}
  \rnk[c2]{b25.south east}{b252}
  \rnk[c3]{b25.south east}{b253}
  \rnk{b2.south east}{b26}
  \rnk{b26.south east}{b261}
  \rnk{b261.south east}{b2611}
  \rnk{b2.south east}{b27}
  \rnk{b27.south east}{b271}
  \rnk{b271.south east}{b2711}
  \rnk[c2]{b2.south east}{b28}
  \rnk{b28.south east}{b281}
  \rnk{b281.south east}{b2811}
  \rnk[c2]{b28.south east}{b282}
  \rnk[c3]{b28.south east}{b283}

  \node[rt] (k1) at (w3s |- 0,853) {\mkr{基于内容的推荐（Content-based Filtering）}};
  \node[rt] (k11) at (k1.south east |- 0,853) {基本思想：用户兴趣与推荐物品的描述相匹配};
  \node[rt] (k2) at (w3s |- 0,897.5) {\mkr{协同过滤的推荐（Collaborative Filtering）}};
  \node[rt] (k21) at (k2.south east |- 0,875.3) {\mkr{基于记忆的协同过滤}};
  \node[rt] (k211) at (k21.south east |- 0,868) {基于用户的协同过滤};
  \node[rt] (k212) at (k21.south east |- 0,882.7) {基于物品的协同过滤};
  \node[rt] (k22) at (k2.south east |- 0,912.3) {\mkr{基于模型的协同过滤}};
  \node[rt] (k221) at (k22.south east |- 0,905) {\mkr{隐语义模型}};
  \node[rt] (k2211) at (k221.south east |- 0,897.5) {基于矩阵分解模型};
  \node[rt] (k2212) at (k221.south east |- 0,912.3) {LDA};
  \node[rt] (k222) at (k22.south east |- 0,927) {\mkr{基于图的模型}};
  \node[rt] (k2221) at (k222.south east |- 0,927) {基于图的随机游走算法};
  \node[rt] (k3) at (w3s |- 0,969.3) {\mkr{混合的推荐（Hybrid Approaches）}};
  \node[rtm] (k31) at (k3.south east |- 0,952.8) {分别实现基于内容的推荐和协同过滤的推荐，加权或投票整合预\\测结果};
  \node[rt] (k32) at (k3.south east |- 0,967.6) {将一些基于内容的特征合并到协同过滤方法中};
  \node[rt] (k33) at (k3.south east |- 0,982.4) {将一些协同过滤的特征合并到基于内容的方法中};
  \node[rt] (k34) at (k3.south east |- 0,997.2) {构建一个统一模型整合协同过滤特征和基于内容的特征};
  \rnk[c3]{w3s}{k1}
  \rnk[c3]{k1.south east}{k11}
  \rnk[c3]{w3s}{k2}
  \rnk[c3]{k2.south east}{k21}
  \rnk[c3]{k21.south east}{k211}
  \rnk[c3]{k21.south east}{k212}
  \rnk[c3]{k2.south east}{k22}
  \rnk[c3]{k22.south east}{k221}
  \rnk[c3]{k221.south east}{k2211}
  \rnk[c3]{k221.south east}{k2212}
  \rnk[c3]{k22.south east}{k222}
  \rnk[c3]{k222.south east}{k2221}
  \rnk[c3]{w3s}{k3}
  \rnk[c3]{k3.south east}{k31}
  \rnk[c3]{k3.south east}{k32}
  \rnk[c3]{k3.south east}{k33}
  \rnk[c3]{k3.south east}{k34}
\end{tikzpicture}
\end{document}
